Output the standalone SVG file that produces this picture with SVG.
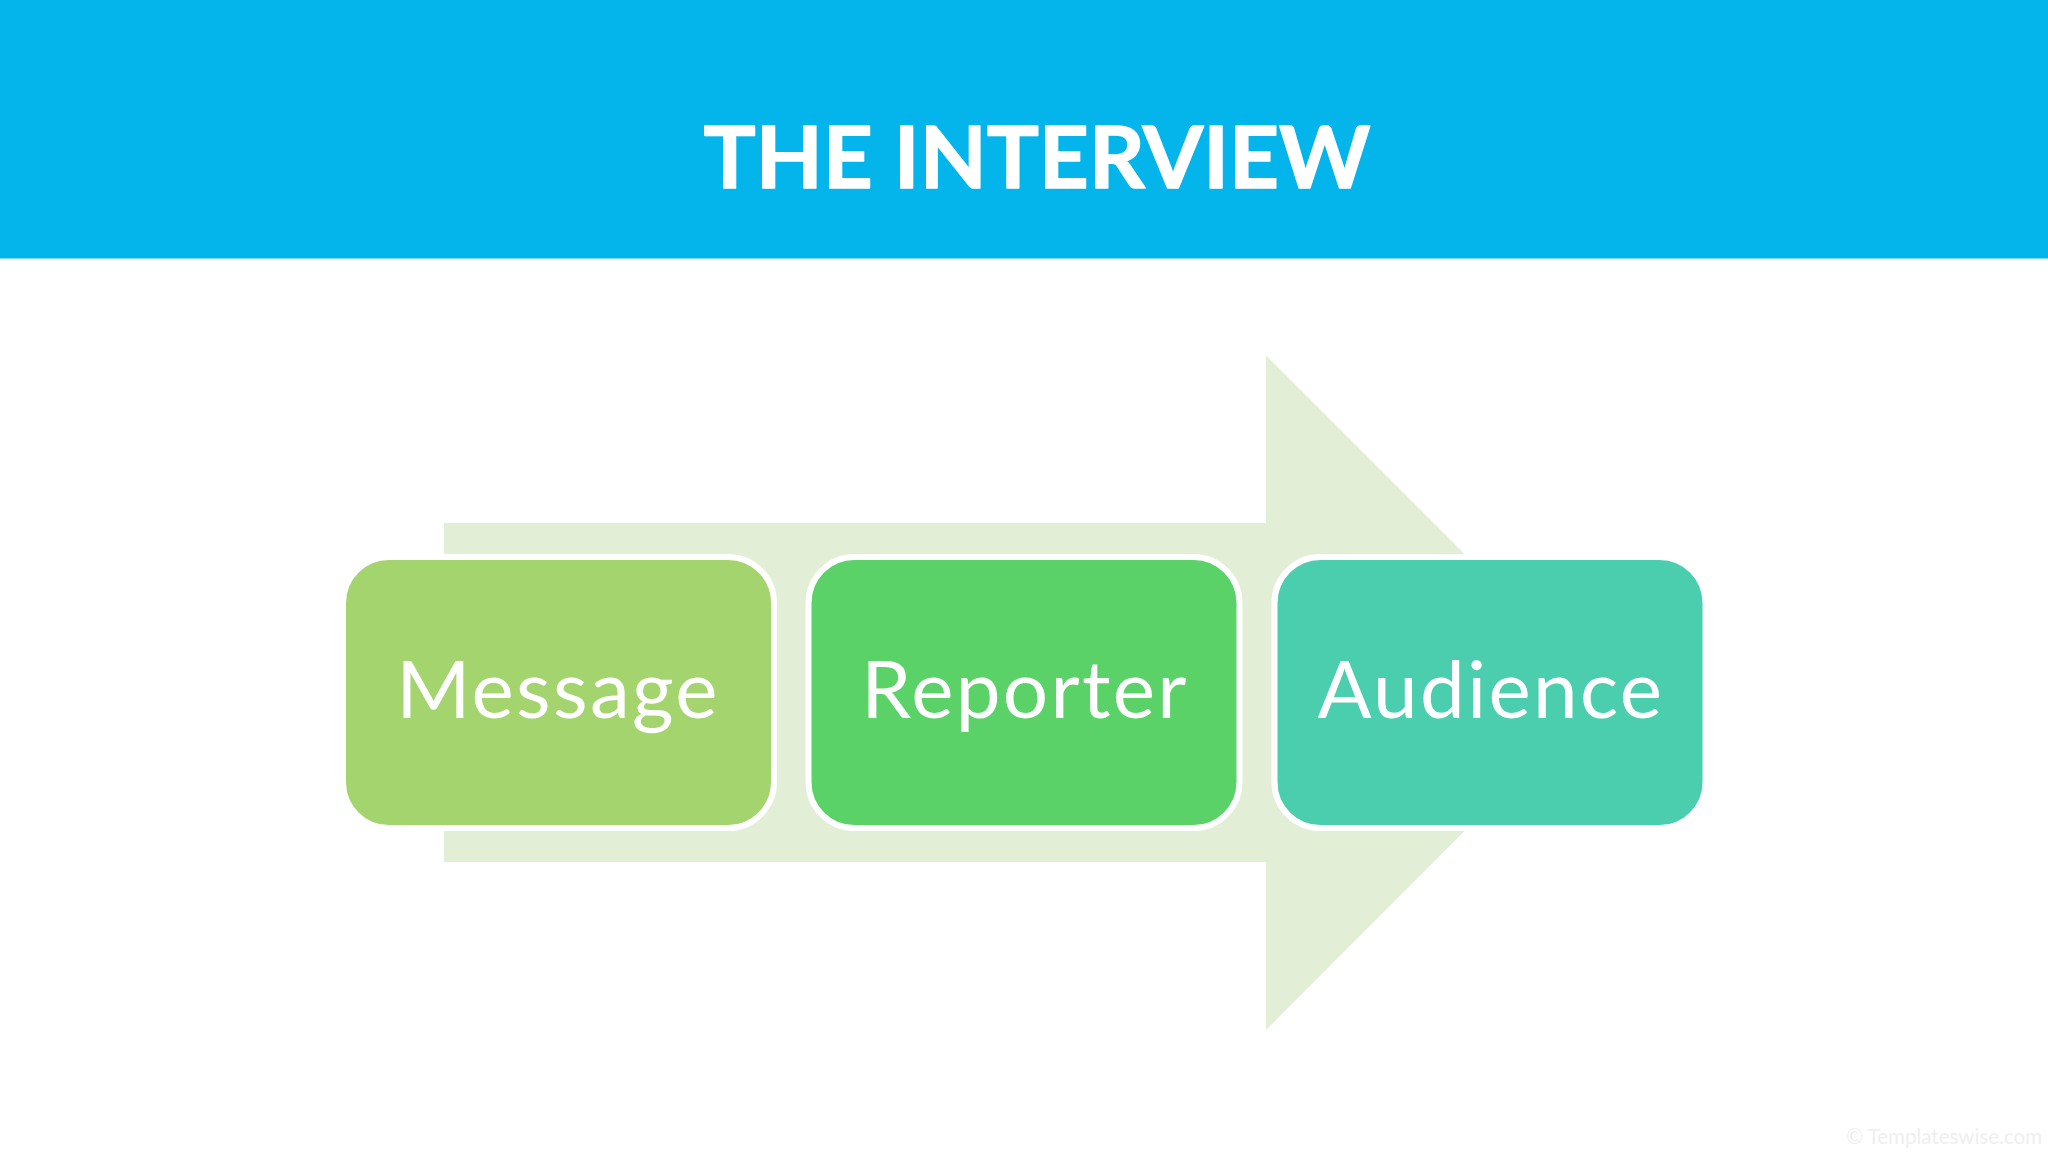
<svg xmlns="http://www.w3.org/2000/svg" width="2048" height="1152" viewBox="0 0 2048 1152">
  <style>
    .box { stroke: #ffffff; stroke-width: 6; }
    .label { font-family: "Lato", "Liberation Sans", sans-serif; font-size: 80px; letter-spacing: 2.3px; fill: #ffffff; text-anchor: middle; }
    .title { font-family: "Lato", "Liberation Sans", sans-serif; font-weight: 700; font-size: 87px; fill: #ffffff; stroke: #ffffff; stroke-width: 1.5px; stroke-linejoin: round; text-anchor: middle; }
    .mark { font-family: "Lato", "Liberation Sans", sans-serif; font-size: 20.5px; fill: #efefef; text-anchor: end; }
  </style>
  <rect width="2048" height="1152" fill="#ffffff"/>
  <g id="header">
    <rect x="0" y="0" width="2048" height="258.5" fill="#04B5EB"/>
    <text class="title" x="1037" y="188">THE INTERVIEW</text>
  </g>
  <g id="arrow">
    <polygon points="444,523 1266,523 1266,355.500 1603,692.500 1266,1030 1266,862 444,862" fill="#E3EED6"/>
  </g>
  <g id="node-message">
    <rect class="box" x="343" y="557" width="431" height="271" rx="46" fill="#A4D46E"/>
    <text class="label" x="558" y="718">Message</text>
  </g>
  <g id="node-reporter">
    <rect class="box" x="808.500" y="557" width="431" height="271" rx="46" fill="#5AD268"/>
    <text class="label" x="1025" y="718">Reporter</text>
  </g>
  <g id="node-audience">
    <rect class="box" x="1274.500" y="557" width="431" height="271" rx="46" fill="#4BCEAE"/>
    <text class="label" x="1491" y="718">Audience</text>
  </g>
  <text id="watermark" class="mark" x="2042" y="1144">© Templateswise.com</text>
</svg>
